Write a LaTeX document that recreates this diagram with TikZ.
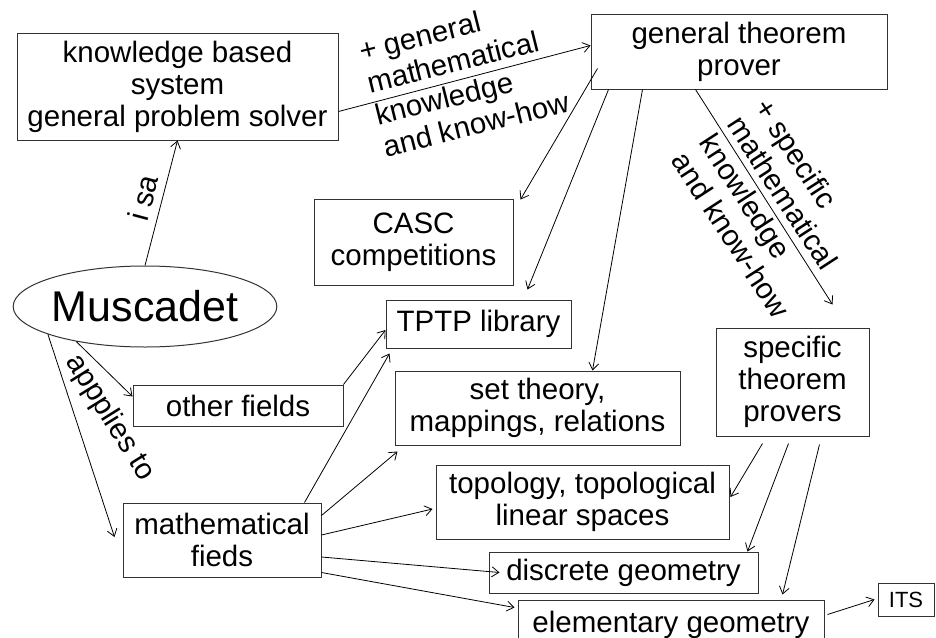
\documentclass[tikz,border=0pt]{standalone}
\usepackage{fontspec}
\setmainfont{Liberation Sans}
\usetikzlibrary{shapes.geometric,arrows.meta,calc}
\begin{document}
\begin{tikzpicture}[x=1pt,y=-1pt,
  box/.style={draw=black!80, line width=1pt, inner sep=0pt, align=center, font=\fontsize{29.5}{32}\selectfont},
  lbl/.style={inner sep=0pt, align=left, font=\fontsize{29.5}{33}\selectfont},
  conn/.style={line width=0.8pt, -{Straight Barb[length=7pt,width=10pt]}}]
\useasboundingbox (0,0) rectangle (936,637);
% nodes
\node[box, minimum width=321pt, minimum height=107pt] (kbs) at (177.5,86.5) {knowledge based\\system\\general problem solver};
\node[box, minimum width=296pt, minimum height=75pt] (gtp) at (739,51.5) {general theorem\\prover};
\node[box, minimum width=199pt, minimum height=86pt] (casc) at (413.5,242) {CASC\\competitions};
\node[box, minimum width=185pt, minimum height=48pt] (tptp) at (478.5,324) {TPTP library};
\node[box, minimum width=285pt, minimum height=74pt] (st) at (537.5,408) {set theory,\\mappings, relations};
\node[box, minimum width=210pt, minimum height=41pt] (other) at (238,405.5) {other fields};
\node[box, ellipse, minimum width=258pt, minimum height=81pt, font=\fontsize{43}{46}\selectfont] (mus) at (145,306.5) {Muscadet};
\node[box, minimum width=198pt, minimum height=74pt] (math) at (222,540) {mathematical\\fieds};
\node[box, minimum width=293pt, minimum height=74pt] (topo) at (582.5,502) {topology, topological\\linear spaces};
\node[box, minimum width=269pt, minimum height=41pt] (disc) at (623.5,572.5) {discrete geometry};
\node[box, minimum width=306pt, minimum height=50pt] (elem) at (671,625) {elementary geometry};
\node[box, minimum width=56pt, minimum height=33pt, font=\fontsize{22}{24}\selectfont] (its) at (906,599.5) {ITS};
\node[box, minimum width=153pt, minimum height=108pt] (stp) at (792.5,382) {specific\\theorem\\provers};
% labels
\node[lbl, rotate=14] (l1) at (464,76) {+ general\\mathematical\\knowledge\\and know-how};
\node[lbl, rotate=-57] (l2) at (773,208) {+ specific\\mathematical\\knowledge\\and know-how};
\node[lbl, rotate=75] (l3) at (143,198) {i sa};
\node[lbl, rotate=-58] (l4) at (110,418) {appplies to};
% connectors
\draw[conn] (mus.north) -- (kbs.south);
\draw[conn] ($(kbs.south east)+(0,-29)$) -- ($(gtp.west)+(0,-6)$);
\draw[conn] ($(gtp.south west)+(7,-21)$) -- ($(casc.north east)+(7,1)$);
\draw[conn] ($(gtp.south west)+(18,0)$) -- ($(tptp.north east)+(-44,-10)$);
\draw[conn] ($(gtp.south west)+(52,0)$) -- ($(st.north)+(55,0)$);
\draw[conn] ($(gtp.south west)+(105,0)$) -- ($(stp.north east)+(-37,-23)$);
\draw[conn] (mus.207) -- ($(other.north west)+(0,12)$);
\draw[conn] (mus.196) -- ($(math.west)+(-8,-3)$);
\draw[conn] (other.north east) -- ($(tptp.west)+(0,6)$);
\draw[conn] ($(math.north east)+(-17,0)$) -- ($(tptp.south west)+(4,5)$);
\draw[conn] ($(math.north east)+(0,13)$) -- ($(st.south west)+(3,6)$);
\draw[conn] ($(math.east)+(0,-5)$) -- ($(topo.west)+(-3,7)$);
\draw[conn] ($(math.east)+(0,17)$) -- ($(disc.west)+(11,0)$);
\draw[conn] ($(math.south east)+(0,-5)$) -- ($(elem.north west)+(-3,8)$);
\draw[conn] ($(stp.south west)+(47,7)$) -- ($(topo.east)+(1,-5)$);
\draw[conn] ($(stp.south west)+(73,7)$) -- ($(disc.north east)+(-11,0)$);
\draw[conn] ($(stp.south west)+(104,8)$) -- ($(elem.north east)+(-42,-5)$);
\draw[conn] ($(elem.north east)+(3,15)$) -- ($(its.west)+(-3,0)$);
\end{tikzpicture}
\end{document}
